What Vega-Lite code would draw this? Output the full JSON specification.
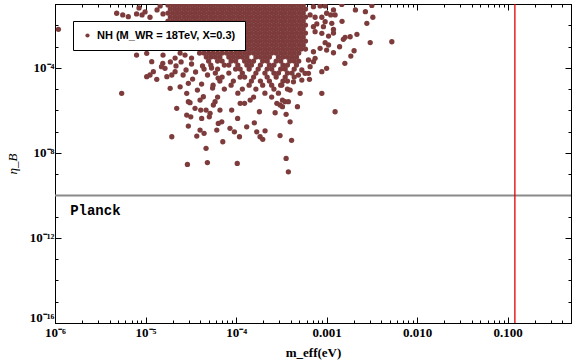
{
"$schema": "https://vega.github.io/schema/vega-lite/v6.json",
"width": 516, "height": 319,
"autosize": {"type": "none"},
"padding": {"left": 55, "top": 4, "right": 5, "bottom": 40},
"background": "white",
"config": {"view": {"stroke": "black", "strokeWidth": 1}, "axis": {"grid": false, "domainColor": "black", "tickColor": "black", "labelColor": "black", "titleColor": "black", "domainWidth": 1, "tickWidth": 1}},
"datasets": {
"pts": [
{"x":1.77e-5,"y":8.93e-2},{"x":1.99e-5,"y":8.93e-2},{"x":2.23e-5,"y":8.93e-2},{"x":2.5e-5,"y":8.93e-2},{"x":2.8e-5,"y":8.93e-2},{"x":3.14e-5,"y":8.93e-2},{"x":3.52e-5,"y":8.93e-2},{"x":3.95e-5,"y":8.93e-2},{"x":4.43e-5,"y":8.93e-2},{"x":4.97e-5,"y":8.93e-2},{"x":5.57e-5,"y":8.93e-2},{"x":6.25e-5,"y":8.93e-2},{"x":7.01e-5,"y":8.93e-2},{"x":7.86e-5,"y":8.93e-2},{"x":8.81e-5,"y":8.93e-2},{"x":9.88e-5,"y":8.93e-2},{"x":1.108e-4,"y":8.93e-2},{"x":1.243e-4,"y":8.93e-2},{"x":1.394e-4,"y":8.93e-2},{"x":1.563e-4,"y":8.93e-2},{"x":1.753e-4,"y":8.93e-2},{"x":1.966e-4,"y":8.93e-2},{"x":2.204e-4,"y":8.93e-2},{"x":2.472e-4,"y":8.93e-2},{"x":2.772e-4,"y":8.93e-2},{"x":3.109e-4,"y":8.93e-2},{"x":3.486e-4,"y":8.93e-2},{"x":3.91e-4,"y":8.93e-2},{"x":4.384e-4,"y":8.93e-2},{"x":4.917e-4,"y":8.93e-2},{"x":5.514e-4,"y":8.93e-2},
{"x":1.88e-5,"y":5.78e-2},{"x":2.11e-5,"y":5.78e-2},{"x":2.36e-5,"y":5.78e-2},{"x":2.65e-5,"y":5.78e-2},{"x":2.97e-5,"y":5.78e-2},{"x":3.33e-5,"y":5.78e-2},{"x":3.73e-5,"y":5.78e-2},{"x":4.18e-5,"y":5.78e-2},{"x":4.69e-5,"y":5.78e-2},{"x":5.26e-5,"y":5.78e-2},{"x":5.9e-5,"y":5.78e-2},{"x":6.62e-5,"y":5.78e-2},{"x":7.42e-5,"y":5.78e-2},{"x":8.32e-5,"y":5.78e-2},{"x":9.33e-5,"y":5.78e-2},{"x":1.046e-4,"y":5.78e-2},{"x":1.173e-4,"y":5.78e-2},{"x":1.316e-4,"y":5.78e-2},{"x":1.476e-4,"y":5.78e-2},{"x":1.655e-4,"y":5.78e-2},{"x":1.856e-4,"y":5.78e-2},{"x":2.081e-4,"y":5.78e-2},{"x":2.334e-4,"y":5.78e-2},{"x":2.618e-4,"y":5.78e-2},{"x":2.936e-4,"y":5.78e-2},{"x":3.292e-4,"y":5.78e-2},{"x":3.692e-4,"y":5.78e-2},{"x":4.14e-4,"y":5.78e-2},{"x":4.643e-4,"y":5.78e-2},{"x":5.207e-4,"y":5.78e-2},{"x":5.84e-4,"y":5.78e-2},
{"x":1.77e-5,"y":3.75e-2},{"x":1.99e-5,"y":3.75e-2},{"x":2.23e-5,"y":3.75e-2},{"x":2.5e-5,"y":3.75e-2},{"x":2.8e-5,"y":3.75e-2},{"x":3.14e-5,"y":3.75e-2},{"x":3.52e-5,"y":3.75e-2},{"x":3.95e-5,"y":3.75e-2},{"x":4.43e-5,"y":3.75e-2},{"x":4.97e-5,"y":3.75e-2},{"x":5.57e-5,"y":3.75e-2},{"x":6.25e-5,"y":3.75e-2},{"x":7.01e-5,"y":3.75e-2},{"x":7.86e-5,"y":3.75e-2},{"x":8.81e-5,"y":3.75e-2},{"x":9.88e-5,"y":3.75e-2},{"x":1.108e-4,"y":3.75e-2},{"x":1.243e-4,"y":3.75e-2},{"x":1.394e-4,"y":3.75e-2},{"x":1.563e-4,"y":3.75e-2},{"x":1.753e-4,"y":3.75e-2},{"x":1.966e-4,"y":3.75e-2},{"x":2.204e-4,"y":3.75e-2},{"x":2.472e-4,"y":3.75e-2},{"x":2.772e-4,"y":3.75e-2},{"x":3.109e-4,"y":3.75e-2},{"x":3.486e-4,"y":3.75e-2},{"x":3.91e-4,"y":3.75e-2},{"x":4.384e-4,"y":3.75e-2},{"x":4.917e-4,"y":3.75e-2},{"x":5.514e-4,"y":3.75e-2},
{"x":1.88e-5,"y":2.43e-2},{"x":2.11e-5,"y":2.43e-2},{"x":2.36e-5,"y":2.43e-2},{"x":2.65e-5,"y":2.43e-2},{"x":2.97e-5,"y":2.43e-2},{"x":3.33e-5,"y":2.43e-2},{"x":3.73e-5,"y":2.43e-2},{"x":4.18e-5,"y":2.43e-2},{"x":4.69e-5,"y":2.43e-2},{"x":5.26e-5,"y":2.43e-2},{"x":5.9e-5,"y":2.43e-2},{"x":6.62e-5,"y":2.43e-2},{"x":7.42e-5,"y":2.43e-2},{"x":8.32e-5,"y":2.43e-2},{"x":9.33e-5,"y":2.43e-2},{"x":1.046e-4,"y":2.43e-2},{"x":1.173e-4,"y":2.43e-2},{"x":1.316e-4,"y":2.43e-2},{"x":1.476e-4,"y":2.43e-2},{"x":1.655e-4,"y":2.43e-2},{"x":1.856e-4,"y":2.43e-2},{"x":2.081e-4,"y":2.43e-2},{"x":2.334e-4,"y":2.43e-2},{"x":2.618e-4,"y":2.43e-2},{"x":2.936e-4,"y":2.43e-2},{"x":3.292e-4,"y":2.43e-2},{"x":3.692e-4,"y":2.43e-2},{"x":4.14e-4,"y":2.43e-2},{"x":4.643e-4,"y":2.43e-2},{"x":5.207e-4,"y":2.43e-2},{"x":5.84e-4,"y":2.43e-2},
{"x":1.77e-5,"y":1.58e-2},{"x":1.99e-5,"y":1.58e-2},{"x":2.23e-5,"y":1.58e-2},{"x":2.5e-5,"y":1.58e-2},{"x":2.8e-5,"y":1.58e-2},{"x":3.14e-5,"y":1.58e-2},{"x":3.52e-5,"y":1.58e-2},{"x":3.95e-5,"y":1.58e-2},{"x":4.43e-5,"y":1.58e-2},{"x":4.97e-5,"y":1.58e-2},{"x":5.57e-5,"y":1.58e-2},{"x":6.25e-5,"y":1.58e-2},{"x":7.01e-5,"y":1.58e-2},{"x":7.86e-5,"y":1.58e-2},{"x":8.81e-5,"y":1.58e-2},{"x":9.88e-5,"y":1.58e-2},{"x":1.108e-4,"y":1.58e-2},{"x":1.243e-4,"y":1.58e-2},{"x":1.394e-4,"y":1.58e-2},{"x":1.563e-4,"y":1.58e-2},{"x":1.753e-4,"y":1.58e-2},{"x":1.966e-4,"y":1.58e-2},{"x":2.204e-4,"y":1.58e-2},{"x":2.472e-4,"y":1.58e-2},{"x":2.772e-4,"y":1.58e-2},{"x":3.109e-4,"y":1.58e-2},{"x":3.486e-4,"y":1.58e-2},{"x":3.91e-4,"y":1.58e-2},{"x":4.384e-4,"y":1.58e-2},{"x":4.917e-4,"y":1.58e-2},{"x":5.514e-4,"y":1.58e-2},
{"x":1.046e-4,"y":1.02e-2},{"x":1.173e-4,"y":1.02e-2},{"x":1.316e-4,"y":1.02e-2},{"x":1.476e-4,"y":1.02e-2},{"x":1.655e-4,"y":1.02e-2},{"x":1.856e-4,"y":1.02e-2},{"x":2.081e-4,"y":1.02e-2},{"x":2.334e-4,"y":1.02e-2},{"x":2.618e-4,"y":1.02e-2},{"x":2.936e-4,"y":1.02e-2},{"x":3.292e-4,"y":1.02e-2},{"x":3.692e-4,"y":1.02e-2},{"x":4.14e-4,"y":1.02e-2},{"x":4.643e-4,"y":1.02e-2},{"x":5.207e-4,"y":1.02e-2},{"x":5.84e-4,"y":1.02e-2},
{"x":1.108e-4,"y":6.62e-3},{"x":1.243e-4,"y":6.62e-3},{"x":1.394e-4,"y":6.62e-3},{"x":1.563e-4,"y":6.62e-3},{"x":1.753e-4,"y":6.62e-3},{"x":1.966e-4,"y":6.62e-3},{"x":2.204e-4,"y":6.62e-3},{"x":2.472e-4,"y":6.62e-3},{"x":2.772e-4,"y":6.62e-3},{"x":3.109e-4,"y":6.62e-3},{"x":3.486e-4,"y":6.62e-3},{"x":3.91e-4,"y":6.62e-3},{"x":4.384e-4,"y":6.62e-3},{"x":4.917e-4,"y":6.62e-3},{"x":5.514e-4,"y":6.62e-3},
{"x":1.046e-4,"y":4.3e-3},{"x":1.173e-4,"y":4.3e-3},{"x":1.316e-4,"y":4.3e-3},{"x":1.476e-4,"y":4.3e-3},{"x":1.655e-4,"y":4.3e-3},{"x":1.856e-4,"y":4.3e-3},{"x":2.081e-4,"y":4.3e-3},{"x":2.334e-4,"y":4.3e-3},{"x":2.618e-4,"y":4.3e-3},{"x":2.936e-4,"y":4.3e-3},{"x":3.292e-4,"y":4.3e-3},{"x":3.692e-4,"y":4.3e-3},{"x":4.14e-4,"y":4.3e-3},{"x":4.643e-4,"y":4.3e-3},{"x":5.207e-4,"y":4.3e-3},{"x":5.84e-4,"y":4.3e-3},
{"x":1.108e-4,"y":2.79e-3},{"x":1.243e-4,"y":2.79e-3},{"x":1.394e-4,"y":2.79e-3},{"x":1.563e-4,"y":2.79e-3},{"x":1.753e-4,"y":2.79e-3},{"x":1.966e-4,"y":2.79e-3},{"x":2.204e-4,"y":2.79e-3},{"x":2.472e-4,"y":2.79e-3},{"x":2.772e-4,"y":2.79e-3},{"x":3.109e-4,"y":2.79e-3},{"x":3.486e-4,"y":2.79e-3},{"x":3.91e-4,"y":2.79e-3},{"x":4.384e-4,"y":2.79e-3},{"x":4.917e-4,"y":2.79e-3},{"x":5.514e-4,"y":2.79e-3},
{"x":1.046e-4,"y":1.8e-3},{"x":1.173e-4,"y":1.8e-3},{"x":1.316e-4,"y":1.8e-3},{"x":1.476e-4,"y":1.8e-3},{"x":1.655e-4,"y":1.8e-3},{"x":1.856e-4,"y":1.8e-3},{"x":2.081e-4,"y":1.8e-3},{"x":2.334e-4,"y":1.8e-3},{"x":2.618e-4,"y":1.8e-3},{"x":2.936e-4,"y":1.8e-3},{"x":3.292e-4,"y":1.8e-3},{"x":3.692e-4,"y":1.8e-3},{"x":4.14e-4,"y":1.8e-3},{"x":4.643e-4,"y":1.8e-3},{"x":5.207e-4,"y":1.8e-3},{"x":5.84e-4,"y":1.8e-3},
{"x":1.108e-4,"y":1.17e-3},{"x":1.243e-4,"y":1.17e-3},{"x":1.394e-4,"y":1.17e-3},{"x":1.563e-4,"y":1.17e-3},{"x":1.753e-4,"y":1.17e-3},{"x":1.966e-4,"y":1.17e-3},{"x":2.204e-4,"y":1.17e-3},{"x":2.472e-4,"y":1.17e-3},{"x":2.772e-4,"y":1.17e-3},{"x":3.109e-4,"y":1.17e-3},{"x":3.486e-4,"y":1.17e-3},{"x":3.91e-4,"y":1.17e-3},{"x":4.384e-4,"y":1.17e-3},{"x":4.917e-4,"y":1.17e-3},{"x":5.514e-4,"y":1.17e-3},
{"x":1.046e-4,"y":7.59e-4},{"x":1.173e-4,"y":7.59e-4},{"x":1.316e-4,"y":7.59e-4},{"x":1.476e-4,"y":7.59e-4},{"x":1.655e-4,"y":7.59e-4},{"x":1.856e-4,"y":7.59e-4},{"x":2.081e-4,"y":7.59e-4},{"x":2.334e-4,"y":7.59e-4},{"x":2.618e-4,"y":7.59e-4},{"x":2.936e-4,"y":7.59e-4},{"x":3.292e-4,"y":7.59e-4},{"x":3.692e-4,"y":7.59e-4},{"x":4.14e-4,"y":7.59e-4},{"x":4.643e-4,"y":7.59e-4},{"x":5.207e-4,"y":7.59e-4},{"x":5.84e-4,"y":7.59e-4},
{"x":3.95e-5,"y":4.92e-4},{"x":4.43e-5,"y":4.92e-4},{"x":4.97e-5,"y":4.92e-4},{"x":5.57e-5,"y":4.92e-4},{"x":6.25e-5,"y":4.92e-4},{"x":7.01e-5,"y":4.92e-4},{"x":7.86e-5,"y":4.92e-4},{"x":8.81e-5,"y":4.92e-4},{"x":9.88e-5,"y":4.92e-4},{"x":1.108e-4,"y":4.92e-4},{"x":1.243e-4,"y":4.92e-4},{"x":1.394e-4,"y":4.92e-4},{"x":1.563e-4,"y":4.92e-4},{"x":1.753e-4,"y":4.92e-4},{"x":1.966e-4,"y":4.92e-4},{"x":2.204e-4,"y":4.92e-4},{"x":2.472e-4,"y":4.92e-4},{"x":2.772e-4,"y":4.92e-4},{"x":3.109e-4,"y":4.92e-4},{"x":3.486e-4,"y":4.92e-4},{"x":3.91e-4,"y":4.92e-4},{"x":4.384e-4,"y":4.92e-4},{"x":4.917e-4,"y":4.92e-4},
{"x":4.69e-5,"y":3.19e-4},{"x":5.26e-5,"y":3.19e-4},{"x":5.9e-5,"y":3.19e-4},{"x":6.62e-5,"y":3.19e-4},{"x":8.32e-5,"y":3.19e-4},{"x":9.33e-5,"y":3.19e-4},{"x":1.046e-4,"y":3.19e-4},{"x":1.173e-4,"y":3.19e-4},{"x":1.316e-4,"y":3.19e-4},{"x":1.655e-4,"y":3.19e-4},{"x":1.856e-4,"y":3.19e-4},{"x":2.081e-4,"y":3.19e-4},{"x":2.334e-4,"y":3.19e-4},{"x":2.936e-4,"y":3.19e-4},{"x":3.292e-4,"y":3.19e-4},{"x":3.692e-4,"y":3.19e-4},{"x":4.14e-4,"y":3.19e-4},{"x":4.643e-4,"y":3.19e-4},
{"x":4.97e-5,"y":2.07e-4},{"x":6.25e-5,"y":2.07e-4},{"x":7.01e-5,"y":2.07e-4},{"x":8.81e-5,"y":2.07e-4},{"x":9.88e-5,"y":2.07e-4},{"x":1.243e-4,"y":2.07e-4},{"x":1.394e-4,"y":2.07e-4},{"x":1.563e-4,"y":2.07e-4},{"x":1.966e-4,"y":2.07e-4},{"x":2.204e-4,"y":2.07e-4},{"x":2.772e-4,"y":2.07e-4},{"x":3.109e-4,"y":2.07e-4},{"x":3.91e-4,"y":2.07e-4},{"x":4.384e-4,"y":2.07e-4},{"x":4.917e-4,"y":2.07e-4},
{"x":5.26e-5,"y":1.34e-4},{"x":7.42e-5,"y":1.34e-4},{"x":8.32e-5,"y":1.34e-4},{"x":1.046e-4,"y":1.34e-4},{"x":1.316e-4,"y":1.34e-4},{"x":1.476e-4,"y":1.34e-4},{"x":1.856e-4,"y":1.34e-4},{"x":2.334e-4,"y":1.34e-4},{"x":2.618e-4,"y":1.34e-4},{"x":3.292e-4,"y":1.34e-4},{"x":3.692e-4,"y":1.34e-4},{"x":4.643e-4,"y":1.34e-4},
{"x":4.43e-5,"y":8.69e-5},{"x":6.25e-5,"y":8.69e-5},{"x":9.88e-5,"y":8.69e-5},{"x":1.108e-4,"y":8.69e-5},{"x":1.394e-4,"y":8.69e-5},{"x":1.753e-4,"y":8.69e-5},{"x":2.204e-4,"y":8.69e-5},{"x":2.472e-4,"y":8.69e-5},{"x":3.109e-4,"y":8.69e-5},{"x":3.486e-4,"y":8.69e-5},{"x":4.384e-4,"y":8.69e-5},
{"x":5.9e-5,"y":5.64e-5},{"x":8.32e-5,"y":5.64e-5},{"x":1.173e-4,"y":5.64e-5},{"x":1.655e-4,"y":5.64e-5},{"x":2.081e-4,"y":5.64e-5},{"x":2.618e-4,"y":5.64e-5},{"x":2.936e-4,"y":5.64e-5},{"x":3.692e-4,"y":5.64e-5},{"x":4.14e-4,"y":5.64e-5},
{"x":7.01e-5,"y":3.65e-5},{"x":1.108e-4,"y":3.65e-5},{"x":1.243e-4,"y":3.65e-5},{"x":1.563e-4,"y":3.65e-5},{"x":2.204e-4,"y":3.65e-5},{"x":2.772e-4,"y":3.65e-5},{"x":3.486e-4,"y":3.65e-5},{"x":4.384e-4,"y":3.65e-5},
{"x":6.62e-5,"y":2.37e-5},{"x":9.33e-5,"y":2.37e-5},{"x":1.476e-4,"y":2.37e-5},{"x":1.856e-4,"y":2.37e-5},{"x":2.334e-4,"y":2.37e-5},{"x":3.292e-4,"y":2.37e-5},{"x":3.692e-4,"y":2.37e-5},
{"x":5.57e-5,"y":1.53e-5},{"x":8.81e-5,"y":1.53e-5},{"x":1.394e-4,"y":1.53e-5},{"x":1.966e-4,"y":1.53e-5},{"x":2.472e-4,"y":1.53e-5},{"x":3.109e-4,"y":1.53e-5},
{"x":7.42e-5,"y":9.95e-6},{"x":1.173e-4,"y":9.95e-6},{"x":1.655e-4,"y":9.95e-6},{"x":2.618e-4,"y":9.95e-6},{"x":3.692e-4,"y":9.95e-6},
{"x":1.046e-4,"y":6.44e-6},{"x":2.081e-4,"y":6.44e-6},{"x":2.936e-4,"y":6.44e-6},
{"x":6.25e-5,"y":4.18e-6},{"x":1.563e-4,"y":4.18e-6},{"x":2.472e-4,"y":4.18e-6},
{"x":1.09e-6,"y":6.45e-3},{"x":4.8e-6,"y":3.67e-2},{"x":5.6e-6,"y":3.05e-2},{"x":6.45e-6,"y":2.54e-2},{"x":7.96e-6,"y":3.4e-2},{"x":7.96e-6,"y":3.98e-4},{"x":1.03e-5,"y":4.79e-4},{"x":1.17e-5,"y":1.94e-4},{"x":1.03e-5,"y":3.81e-5},{"x":1.12e-5,"y":4.58e-5},{"x":1.22e-5,"y":6.55e-5},{"x":5.45e-6,"y":6.28e-6},{"x":1.55e-5,"y":1.63e-4},{"x":1.64e-5,"y":9.47e-5},{"x":1.87e-5,"y":1.08e-5},{"x":1.95e-5,"y":5.72e-8},{"x":2.21e-5,"y":1.24e-6},{"x":2.41e-5,"y":1.28e-5},{"x":2.85e-5,"y":6.01e-7},{"x":2.97e-5,"y":2.54e-6},{"x":2.97e-5,"y":1.82e-7},{"x":2.9e-5,"y":2.86e-9},{"x":3.52e-5,"y":1.24e-6},{"x":3.68e-5,"y":6.17e-8},{"x":4.0e-5,"y":1.18e-7},{"x":4.66e-5,"y":1.63e-8},{"x":4.82e-5,"y":3.48e-9},{"x":4.17e-5,"y":4.18e-7},{"x":5.06e-5,"y":4.97e-7},{"x":6.36e-5,"y":2.43e-7},{"x":6.64e-5,"y":1.03e-6},{"x":8.56e-5,"y":1.42e-7},{"x":1.03e-4,"y":3.19e-9},{"x":1.04e-4,"y":4.18e-7},{"x":1.31e-4,"y":1.68e-7},{"x":1.69e-4,"y":9.78e-8},{"x":1.84e-4,"y":5.72e-8},{"x":2.09e-4,"y":1.09e-7},{"x":3.06e-4,"y":6.52e-8},{"x":3.57e-4,"y":5.48e-9},{"x":3.78e-4,"y":1.28e-9},{"x":4.1e-4,"y":3.87e-8},
{"x":5.25e-3,"y":1.68e-3},{"x":3.03e-3,"y":1.54e-3},{"x":2.16e-3,"y":3.75e-3},{"x":2.78e-3,"y":1.24e-2},{"x":3.24e-3,"y":2.38e-2},{"x":2.68e-3,"y":4.36e-2},{"x":2.08e-3,"y":5.25e-2},{"x":3.16e-3,"y":8.55e-2},{"x":1.48e-3,"y":1.54e-2},{"x":1.82e-3,"y":2.89e-3},{"x":2.01e-3,"y":6.34e-4},{"x":1.85e-3,"y":3.57e-4},{"x":1.59e-3,"y":1.63e-4},{"x":1.24e-3,"y":8.59e-7},{"x":8.85e-4,"y":6.28e-6},{"x":1.0e-3,"y":9.47e-5},{"x":1.19e-3,"y":5.11e-4},{"x":1.39e-3,"y":9.78e-4},{"x":1.6e-3,"y":2.71e-3},{"x":4.76e-4,"y":1.48e-6},{"x":3.95e-4,"y":2.89e-7},{"x":3.57e-4,"y":6.48e-7},{"x":5.1e-4,"y":6.28e-6},{"x":6.46e-4,"y":2.86e-5},{"x":8.85e-4,"y":6.55e-5},
{"x":7.15e-4,"y":7.5e-2},{"x":8.47e-4,"y":8.1e-2},{"x":9.63e-4,"y":8.1e-2},{"x":1.47e-3,"y":9.5e-2},{"x":1.19e-3,"y":5.25e-2},{"x":1.24e-3,"y":3.05e-2},{"x":1.11e-3,"y":3.05e-2},{"x":1.0e-3,"y":3.67e-2},{"x":8.85e-4,"y":2.38e-2},{"x":7.46e-4,"y":2.38e-2},{"x":6.57e-4,"y":3.05e-2},{"x":1.14e-3,"y":1.24e-2},{"x":9.63e-4,"y":1.48e-2},{"x":7.79e-4,"y":1.15e-2},{"x":7.15e-4,"y":8.59e-3},{"x":1.19e-3,"y":6.45e-3},{"x":1.19e-3,"y":4.32e-3},{"x":9.22e-4,"y":8.59e-3},{"x":8.85e-4,"y":4.18e-3},{"x":7.46e-4,"y":4.97e-3},{"x":1.05e-3,"y":3.12e-3},{"x":1.53e-3,"y":2.18e-3},{"x":1.05e-3,"y":1.18e-3},{"x":9.63e-4,"y":1.51e-3},{"x":8.47e-4,"y":8.23e-4},{"x":1.0e-3,"y":6.84e-4},{"x":7.46e-4,"y":2.8e-4},{"x":7.15e-4,"y":1.94e-4},{"x":6.3e-4,"y":2.33e-4},{"x":6.57e-4,"y":1.13e-4},{"x":6.3e-4,"y":5.51e-5},{"x":5.78e-4,"y":5.51e-5},{"x":5.32e-4,"y":7.88e-5},{"x":5.32e-4,"y":2.65e-5},{"x":7.15e-4,"y":5.69e-4},{"x":3.25e-4,"y":3.05e-6},{"x":3.25e-4,"y":1.48e-6},{"x":3.2e-4,"y":1.54e-5},{"x":3.95e-4,"y":8.97e-6},{"x":4.3e-4,"y":2.2e-5},{"x":4.88e-4,"y":4.56e-5},
{"x":1.5e-5,"y":1.13e-4},{"x":1.33e-5,"y":2.86e-5},{"x":1.72e-5,"y":3.81e-5},{"x":1.95e-5,"y":4.58e-5},{"x":2.12e-5,"y":6.55e-5},{"x":2.85e-5,"y":6.28e-6},{"x":2.97e-5,"y":1.86e-5},{"x":3.1e-5,"y":2.28e-6},{"x":3.74e-5,"y":8.97e-6},{"x":4.0e-5,"y":3.05e-6},{"x":4.35e-5,"y":4.36e-6},{"x":3.16e-5,"y":4.97e-7},{"x":4.07e-5,"y":1.03e-6},{"x":4.66e-5,"y":1.03e-6},{"x":5.16e-5,"y":7.23e-7},{"x":5.86e-5,"y":2.54e-6},{"x":5.61e-5,"y":1.78e-6},{"x":4.43e-5,"y":8.27e-8},{"x":6.12e-5,"y":1.18e-7},{"x":1.88e-5,"y":1.88e-4},{"x":2.17e-5,"y":1.22e-4},{"x":2.47e-5,"y":1.88e-4},{"x":2.8e-5,"y":7.88e-5},{"x":3.22e-5,"y":1.51e-4},{"x":3.57e-5,"y":6.34e-5},{"x":4.26e-5,"y":1.22e-4},{"x":4.84e-5,"y":4.58e-5},{"x":5.36e-5,"y":9.78e-5},{"x":6.33e-5,"y":3.29e-5},{"x":2.6e-5,"y":4.58e-5},{"x":3.31e-5,"y":2.96e-5},{"x":4.16e-5,"y":1.72e-5},{"x":5.5e-5,"y":1.11e-5},
{"x":8.94e-5,"y":1.03e-6},{"x":1.11e-4,"y":2.13e-6},{"x":1.24e-4,"y":2.13e-6},{"x":1.43e-4,"y":3.05e-6},{"x":1.81e-4,"y":8.59e-7},{"x":2.7e-4,"y":7.71e-7},{"x":2.82e-4,"y":2.13e-6},{"x":3.06e-4,"y":1.78e-6},{"x":3.48e-4,"y":2.54e-6},{"x":3.78e-4,"y":2.54e-6},{"x":1.59e-4,"y":2.6e-7},{"x":6.95e-5,"y":2.89e-7},{"x":9.58e-5,"y":9.78e-8},{"x":1.09e-4,"y":5.72e-8},{"x":1.97e-4,"y":4.32e-8},{"x":7.13e-5,"y":3.33e-8},
{"x":8.47e-6,"y":6.52e-2},{"x":9.87e-6,"y":4.23e-2},{"x":1.12e-5,"y":2.38e-2},{"x":1.34e-5,"y":5.25e-2},{"x":1.56e-5,"y":3.4e-2},{"x":1.45e-5,"y":8.1e-2},{"x":9.15e-6,"y":3.05e-2},{"x":1.56e-5,"y":3.98e-4},{"x":2.12e-5,"y":2.88e-4},{"x":2.73e-5,"y":3.98e-4},{"x":3.22e-5,"y":2.88e-4},{"x":2.41e-5,"y":4.92e-4}
],
"planck": [{"y": 1e-10}],
"mlim": [{"x": 0.12}],
"lab": [{"x": 1.47e-6, "y": 1.9e-11, "t": "Planck"}]
},
"layer": [
{"data": {"name": "pts"},
 "mark": {"type": "circle", "size": 28, "opacity": 1, "clip": true},
 "encoding": {
  "x": {"field": "x", "type": "quantitative", "scale": {"type": "log", "domain": [1e-6, 0.5], "nice": false},
   "axis": {"orient": "bottom", "values": [1e-6,2e-6,3e-6,4e-6,5e-6,6e-6,7e-6,8e-6,9e-6,1e-5,2e-5,3e-5,4e-5,5e-5,6e-5,7e-5,8e-5,9e-5,1e-4,2e-4,3e-4,4e-4,5e-4,6e-4,7e-4,8e-4,9e-4,1e-3,2e-3,3e-3,4e-3,5e-3,6e-3,7e-3,8e-3,9e-3,1e-2,2e-2,3e-2,4e-2,5e-2,6e-2,7e-2,8e-2,9e-2,0.1,0.2,0.3,0.4,0.5],
    "labelExpr": "abs(datum.value*pow(10,-round(log(datum.value)/LN10))-1)<0.001 ? (datum.value<5e-6 ? '10⁻⁶' : datum.value<5e-5 ? '10⁻⁵' : datum.value<5e-4 ? '10⁻⁴' : format(datum.value,'.3f')) : ''",
    "tickSize": {"condition": {"test": "abs(datum.value*pow(10,-round(log(datum.value)/LN10))-1)<0.001", "value": -6}, "value": -3},
    "labelPadding": 9, "labelFont": "Liberation Serif", "labelFontWeight": "bold", "labelFontSize": 13, "labelFlush": false, "labelOverlap": false,
    "title": "m_eff(eV)", "titleFont": "Liberation Serif", "titleFontSize": 13, "titleFontWeight": "bold", "titlePadding": 4}},
  "y": {"field": "y", "type": "quantitative", "scale": {"type": "log", "domain": [1e-16, 0.1], "nice": false},
   "axis": {"orient": "left", "values": [1e-16,1e-15,1e-14,1e-13,1e-12,1e-11,1e-10,1e-9,1e-8,1e-7,1e-6,1e-5,1e-4,1e-3,1e-2,1e-1],
    "labelExpr": "round(log(datum.value)/LN10)==-4 ? '10⁻⁴' : round(log(datum.value)/LN10)==-8 ? '10⁻⁸' : round(log(datum.value)/LN10)==-12 ? '10⁻¹²' : round(log(datum.value)/LN10)==-16 ? '10⁻¹⁶' : ''",
    "tickSize": {"condition": {"test": "round(log(datum.value)/LN10)%4==0", "value": -6}, "value": -3},
    "labelPadding": 7, "labelFont": "Liberation Serif", "labelFontWeight": "bold", "labelFontSize": 13, "labelFlush": true, "labelFlushOffset": 1, "labelOverlap": false,
    "title": "η_B", "titleFont": "Liberation Serif", "titleFontSize": 13, "titleFontStyle": "italic", "titleFontWeight": "normal", "titlePadding": 10}},
  "color": {"datum": "NH (M_WR = 18TeV, X=0.3)", "scale": {"range": ["#7d3b3b"]},
   "legend": {"orient": "none", "legendX": 18, "legendY": 17, "title": null, "labelFont": "Liberation Sans", "labelFontSize": 11, "labelFontWeight": "bold", "labelColor": "black", "symbolType": "circle", "symbolSize": 18, "symbolStrokeWidth": 0, "padding": 9, "strokeColor": "black", "fillColor": "white", "labelLimit": 300,
    "encode": {"legend": {"update": {"strokeWidth": {"value": 2}}}}}}
 }},
{"data": {"name": "planck"},
 "mark": {"type": "rule", "color": "#8a8a8a", "strokeWidth": 2},
 "encoding": {"y": {"field": "y", "type": "quantitative", "scale": {"type": "log", "domain": [1e-16, 0.1], "nice": false},
   "axis": {"orient": "right", "values": [1e-16,1e-15,1e-14,1e-13,1e-12,1e-11,1e-10,1e-9,1e-8,1e-7,1e-6,1e-5,1e-4,1e-3,1e-2,1e-1], "labels": false, "title": null,
    "tickSize": {"condition": {"test": "round(log(datum.value)/LN10)%4==0", "value": -6}, "value": -3}}}}},
{"data": {"name": "mlim"},
 "mark": {"type": "rule", "color": "#e00000", "strokeWidth": 1.3},
 "encoding": {"x": {"field": "x", "type": "quantitative", "scale": {"type": "log", "domain": [1e-6, 0.5], "nice": false},
   "axis": {"orient": "top", "values": [1e-6,2e-6,3e-6,4e-6,5e-6,6e-6,7e-6,8e-6,9e-6,1e-5,2e-5,3e-5,4e-5,5e-5,6e-5,7e-5,8e-5,9e-5,1e-4,2e-4,3e-4,4e-4,5e-4,6e-4,7e-4,8e-4,9e-4,1e-3,2e-3,3e-3,4e-3,5e-3,6e-3,7e-3,8e-3,9e-3,1e-2,2e-2,3e-2,4e-2,5e-2,6e-2,7e-2,8e-2,9e-2,0.1,0.2,0.3,0.4,0.5], "labels": false, "title": null,
    "tickSize": {"condition": {"test": "abs(datum.value*pow(10,-round(log(datum.value)/LN10))-1)<0.001", "value": -6}, "value": -3}}}}},
{"data": {"name": "lab"},
 "mark": {"type": "text", "font": "Liberation Mono", "fontWeight": "bold", "fontSize": 14, "align": "left", "baseline": "middle", "color": "black"},
 "encoding": {
  "x": {"field": "x", "type": "quantitative", "scale": {"type": "log", "domain": [1e-6, 0.5], "nice": false}, "axis": null},
  "y": {"field": "y", "type": "quantitative", "scale": {"type": "log", "domain": [1e-16, 0.1], "nice": false}, "axis": null},
  "text": {"field": "t"}}}
],
"resolve": {"axis": {"x": "independent", "y": "independent"}}
}
